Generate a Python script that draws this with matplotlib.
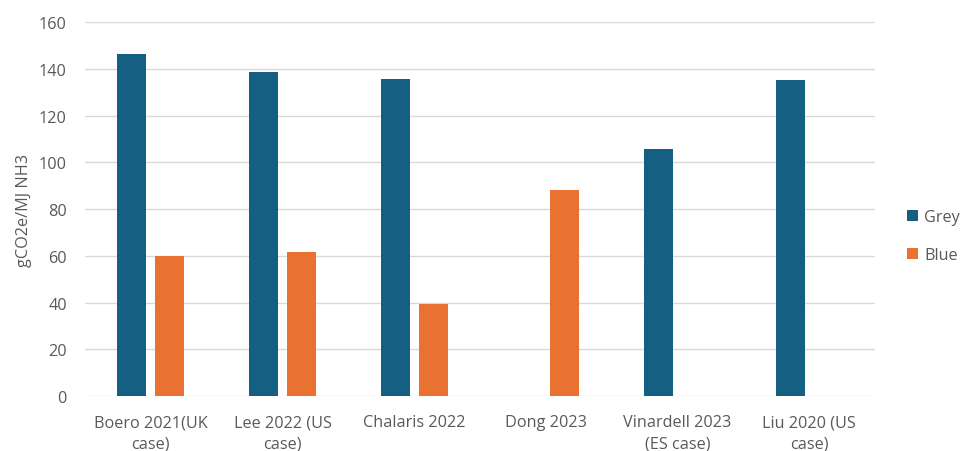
import matplotlib
matplotlib.use("Agg")
import matplotlib.pyplot as plt
import numpy as np

plt.rcParams['font.family'] = ['Open Sans', 'DejaVu Sans']

categories = ["Boero 2021(UK\ncase)", "Lee 2022 (US\ncase)", "Chalaris 2022",
              "Dong 2023", "Vinardell 2023\n(ES case)", "Liu 2020 (US\ncase)"]
grey = [146.2, 138.6, 135.5, np.nan, 105.8, 135.1]
blue = [59.9, 61.6, 39.3, 88.1, np.nan, np.nan]
series_names = ["Grey", "Blue"]
y_ticks = [0, 20, 40, 60, 80, 100, 120, 140, 160]

GREY_C = "#156082"
BLUE_C = "#E97132"
TEXT_C = "#595959"
GRID_C = "#D9D9D9"
FS = 11.7

fig = plt.figure(figsize=(9.6, 4.52), dpi=100)
ax = fig.add_axes([0.0885, 0.1217, 0.823, 0.8273])

x = np.arange(len(categories))
w = 0.22
off = 0.145
ax.bar(x - off, grey, width=w, color=GREY_C, label=series_names[0], zorder=3)
ax.bar(x + off, blue, width=w, color=BLUE_C, label=series_names[1], zorder=3)

ax.set_xlim(-0.5, len(categories) - 0.5)
ax.set_ylim(0, 160)
ax.set_yticks(y_ticks)
ax.set_xticks(x)
ax.set_xticklabels(categories, linespacing=1.45)
ax.tick_params(axis='both', length=0, colors=TEXT_C, labelsize=FS)
ax.tick_params(axis='y', pad=13)
ax.tick_params(axis='x', pad=13)
ax.grid(axis='y', color=GRID_C, linewidth=1.0, zorder=0)
for s in ax.spines.values():
    s.set_visible(False)

ax.set_ylabel("gCO2e/MJ NH3", color=TEXT_C, fontsize=FS, labelpad=5)

leg = ax.legend(loc='center left', bbox_to_anchor=(0.93, 0.475), bbox_transform=fig.transFigure,
                frameon=False, handlelength=0.65, handleheight=0.65, handletextpad=0.4,
                labelspacing=1.35, fontsize=FS)
for t in leg.get_texts():
    t.set_color(TEXT_C)

fig.savefig("out.png", dpi=100)
